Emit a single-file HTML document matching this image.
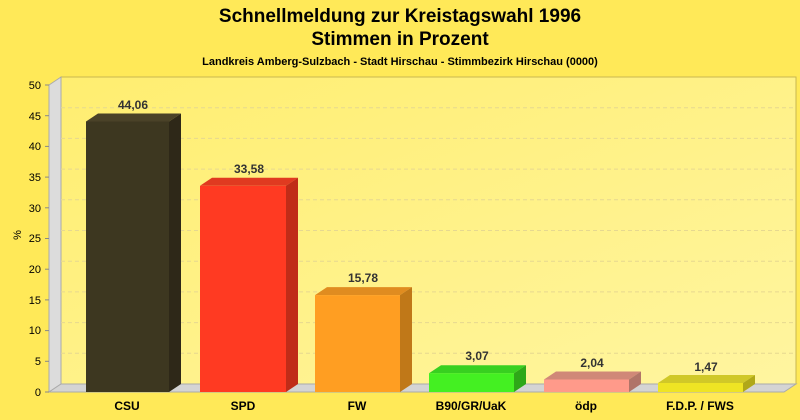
<!DOCTYPE html>
<html><head><style>body{margin:0;background:#ffe958}svg{display:block}</style></head><body>
<svg width="800" height="420" xmlns="http://www.w3.org/2000/svg" font-family="Liberation Sans, sans-serif">
<defs><linearGradient id="bg" x1="0" y1="0" x2="1" y2="1"><stop offset="0" stop-color="#ffee70"/><stop offset="1" stop-color="#fff5a0"/></linearGradient></defs>
<rect width="800" height="420" fill="#ffe958"/>
<text x="400" y="22" text-anchor="middle" font-size="19" font-weight="bold">Schnellmeldung zur Kreistagswahl 1996</text>
<text x="400" y="45" text-anchor="middle" font-size="19" font-weight="bold">Stimmen in Prozent</text>
<text x="400" y="65" text-anchor="middle" font-size="11" font-weight="bold">Landkreis Amberg-Sulzbach - Stadt Hirschau - Stimmbezirk Hirschau (0000)</text>
<rect x="61" y="77" width="735" height="307" fill="url(#bg)" stroke="#c8b850" stroke-width="1"/>
<polygon points="49,85 61,77 61,384 49,392" fill="#dcdcdc" stroke="#aaa" stroke-width="1"/>
<polygon points="49,392 61,384 796,384 784,392" fill="#d4d4d4" stroke="#aaa" stroke-width="1"/>
<g stroke="#e6d890" stroke-dasharray="4,3">
<line x1="61" y1="107.7" x2="796" y2="107.7"/><line x1="61" y1="138.4" x2="796" y2="138.4"/><line x1="61" y1="169.1" x2="796" y2="169.1"/><line x1="61" y1="199.8" x2="796" y2="199.8"/><line x1="61" y1="230.5" x2="796" y2="230.5"/><line x1="61" y1="261.2" x2="796" y2="261.2"/><line x1="61" y1="291.9" x2="796" y2="291.9"/><line x1="61" y1="322.6" x2="796" y2="322.6"/><line x1="61" y1="353.3" x2="796" y2="353.3"/>
</g>
<g font-size="11" text-anchor="end" fill="#000">
<text x="41" y="89">50</text><text x="41" y="120">45</text><text x="41" y="150">40</text><text x="41" y="181">35</text><text x="41" y="212">30</text><text x="41" y="242">25</text><text x="41" y="273">20</text><text x="41" y="304">15</text><text x="41" y="334">10</text><text x="41" y="365">5</text><text x="41" y="396">0</text>
</g>
<g stroke="#888"><line x1="45" y1="85" x2="49" y2="85"/><line x1="45" y1="115.7" x2="49" y2="115.7"/><line x1="45" y1="146.4" x2="49" y2="146.4"/><line x1="45" y1="177.1" x2="49" y2="177.1"/><line x1="45" y1="207.8" x2="49" y2="207.8"/><line x1="45" y1="238.5" x2="49" y2="238.5"/><line x1="45" y1="269.2" x2="49" y2="269.2"/><line x1="45" y1="299.9" x2="49" y2="299.9"/><line x1="45" y1="330.6" x2="49" y2="330.6"/><line x1="45" y1="361.3" x2="49" y2="361.3"/><line x1="45" y1="392" x2="49" y2="392"/></g>
<text x="21" y="235" font-size="11" transform="rotate(-90 21 235)" text-anchor="middle">%</text>
<!-- bars -->
<g>
<polygon points="86,121.5 98,113.5 181,113.5 169,121.5" fill="#4a4228"/><polygon points="169,121.5 181,113.5 181,384 169,392" fill="#2e2818"/><rect x="86" y="121.5" width="83" height="270.5" fill="#3d3720"/>
<polygon points="200,185.8 212,177.8 298,177.8 286,185.8" fill="#e03a20"/><polygon points="286,185.8 298,177.8 298,384 286,392" fill="#c02c18"/><rect x="200" y="185.8" width="86" height="206.2" fill="#ff3a22"/>
<polygon points="315,295.1 327,287.1 412,287.1 400,295.1" fill="#e08c20"/><polygon points="400,295.1 412,287.1 412,384 400,392" fill="#c07818"/><rect x="315" y="295.1" width="85" height="96.9" fill="#ff9e22"/>
<polygon points="429,373.2 441,365.2 526,365.2 514,373.2" fill="#38d020"/><polygon points="514,373.2 526,365.2 526,384 514,392" fill="#2ea818"/><rect x="429" y="373.2" width="85" height="18.8" fill="#44f022"/>
<polygon points="544,379.5 556,371.5 641,371.5 629,379.5" fill="#d08878"/><polygon points="629,379.5 641,371.5 641,384 629,392" fill="#b07468"/><rect x="544" y="379.5" width="85" height="12.5" fill="#ff9a8a"/>
<polygon points="658,383 670,375 755,375 743,383" fill="#d0c828"/><polygon points="743,383 755,375 755,384 743,392" fill="#b0a818"/><rect x="658" y="383" width="85" height="9" fill="#eee424"/>
</g>
<g font-size="12" font-weight="bold" text-anchor="middle" fill="#333">
<text x="133" y="109">44,06</text><text x="249" y="173">33,58</text><text x="363" y="282">15,78</text><text x="477" y="360">3,07</text><text x="592" y="367">2,04</text><text x="706" y="371">1,47</text>
</g>
<g font-size="12" font-weight="bold" text-anchor="middle">
<text x="127" y="410">CSU</text><text x="243" y="410">SPD</text><text x="357" y="410">FW</text><text x="471" y="410">B90/GR/UaK</text><text x="586" y="410">ödp</text><text x="700" y="410">F.D.P. / FWS</text>
</g>
</svg>
</body></html>
